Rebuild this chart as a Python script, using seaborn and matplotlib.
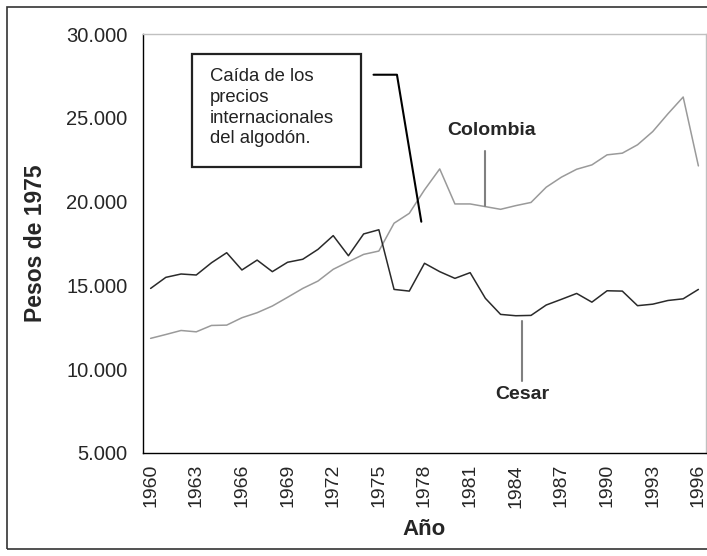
import numpy as np
import pandas as pd
import matplotlib
matplotlib.use("Agg")
import matplotlib.pyplot as plt
import matplotlib.ticker as mticker
from matplotlib.patches import Rectangle
import seaborn as sns

# === Data (pesos de 1975) ===
years = list(range(1960, 1997))
cesar = [14820, 15480, 15680, 15620, 16350, 16950, 15920, 16510, 15820, 16380,
         16560, 17150, 17970, 16770, 18070, 18320, 14760, 14660, 16320, 15820,
         15420, 15760, 14230, 13270, 13190, 13210, 13830, 14170, 14520, 14000,
         14680, 14660, 13790, 13880, 14100, 14200, 14760]
colombia = [11840, 12070, 12310, 12230, 12610, 12630, 13070, 13370, 13770, 14290,
            14820, 15260, 15960, 16410, 16850, 17050, 18710, 19300, 20700, 21950,
            19860, 19860, 19700, 19540, 19760, 19950, 20860, 21460, 21930, 22190,
            22790, 22890, 23390, 24180, 25240, 26240, 22130]
tick_years = years[::3]

df = pd.DataFrame({
    "Año": years * 2,
    "valor": colombia + cesar,
    "serie": ["Colombia"] * len(years) + ["Cesar"] * len(years),
})
# category position (Excel-style category axis)
df["pos"] = df["Año"] - years[0]

sns.set_style("white")
plt.rcParams["font.family"] = ["Liberation Sans", "DejaVu Sans"]

fig = plt.figure(figsize=(7.07, 5.56), dpi=100)
ax = fig.add_axes([143 / 707, 103 / 556, 563 / 707, 419 / 556])

sns.lineplot(data=df, x="pos", y="valor", hue="serie",
             palette={"Colombia": "#9a9a9a", "Cesar": "#2a2a2a"},
             linewidth=1.1, legend=False, ax=ax)

n = len(years)
ax.set_xlim(-0.5, n - 0.5)
ax.set_ylim(5000, 30000)

# x axis: labels every 3 years at category centres, tick marks between categories
ax.set_xticks([y - years[0] for y in tick_years])
ax.set_xticklabels([str(y) for y in tick_years], rotation=90, fontsize=14)
ax.set_xticks(np.arange(-0.5, n, 1.0), minor=True)
ax.tick_params(axis="x", which="major", length=0, pad=8)
ax.tick_params(axis="x", which="minor", direction="out", length=5, width=1, color="black")

ax.set_yticks(range(5000, 30001, 5000))
ax.yaxis.set_major_formatter(mticker.FuncFormatter(lambda v, p: f"{int(v):,}".replace(",", ".")))
ax.tick_params(axis="y", direction="out", length=6, width=1, color="black", labelsize=14.5, pad=5)

ax.set_xlabel("Año", fontsize=16, fontweight="bold", labelpad=8)
ax.set_ylabel("Pesos de 1975", fontsize=16.5, fontweight="bold", labelpad=14)

for side in ["left", "bottom"]:
    ax.spines[side].set_color("black")
    ax.spines[side].set_linewidth(1)
for side in ["top", "right"]:
    ax.spines[side].set_color("#c0c0c0")
    ax.spines[side].set_linewidth(1)

# === Annotations ===
ax.add_patch(Rectangle((2.70, 22090), 11.12, 6710, fill=False,
                       edgecolor="#222222", linewidth=1.6, zorder=5))
ax.text(3.91, 25600, "Caída de los\nprecios\ninternacionales\ndel algodón.",
        fontsize=13.3, color="#222222", va="center", ha="left", linespacing=1.28)
ax.plot([14.65, 16.19, 17.79], [27570, 27570, 18800], color="black", linewidth=1.5)

ax.text(22.4, 24250, "Colombia", fontsize=14, fontweight="bold", ha="center", va="center")
ax.plot([22.0, 22.0], [23030, 19760], color="#808080", linewidth=1.5)

ax.text(24.4, 8500, "Cesar", fontsize=14, fontweight="bold", ha="center", va="center")
ax.plot([24.4, 24.4], [12900, 9300], color="#808080", linewidth=1.5)

# chart area border
fig.patches.append(Rectangle((7 / 707, 7 / 556), 720 / 707, 542 / 556,
                             transform=fig.transFigure, fill=False,
                             edgecolor="#333333", linewidth=1.2))

fig.savefig("out.png", dpi=100)
